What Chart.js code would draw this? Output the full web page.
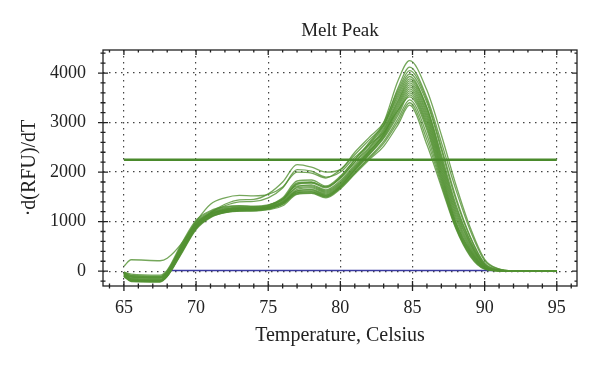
<!DOCTYPE html>
<html>
<head>
<meta charset="utf-8">
<script src="https://cdn.jsdelivr.net/npm/chart.js@4.4.1/dist/chart.umd.min.js"></script>
<style>
  html, body { margin: 0; padding: 0; background: #fff; }
  #wrap { width: 600px; height: 368px; }
</style>
</head>
<body>
<div id="wrap"><canvas id="melt" width="600" height="368"></canvas></div>
<script>
const temps = [65, 65.5, 67.5, 68, 69, 70, 71, 72, 73, 74, 75, 76, 77, 78, 79, 80, 81, 82, 83, 84, 84.8, 86, 87, 88, 89, 90, 91, 92, 95];

// -d(RFU)/dT per well
const c1  = [-60, -120, -140, -40, 480, 950, 1150, 1230, 1260, 1260, 1300, 1450, 1780, 1800, 1700, 1900, 2250, 2600, 3000, 3850, 4250, 3650, 2750, 1750, 880, 240, 45, 5, 0];
const c2  = [-20, -80, -100, 0, 520, 980, 1180, 1260, 1290, 1290, 1330, 1480, 1820, 1840, 1720, 1920, 2250, 2580, 2950, 3700, 4120, 3500, 2600, 1650, 820, 210, 40, 5, 0];
const c3  = [-50, -150, -170, -60, 430, 900, 1180, 1350, 1440, 1450, 1560, 1800, 2150, 2100, 2000, 2050, 2400, 2700, 3000, 3650, 4050, 3450, 2500, 1500, 700, 160, 30, 5, 0];
const c4  = [-80, -180, -200, -80, 400, 880, 1120, 1220, 1250, 1250, 1290, 1420, 1750, 1780, 1680, 1880, 2200, 2550, 2920, 3600, 3980, 3400, 2450, 1450, 680, 150, 25, 3, 0];
const c5  = [100, 230, 210, 260, 560, 1000, 1350, 1480, 1530, 1520, 1550, 1700, 2000, 1980, 1880, 2050, 2350, 2650, 2950, 3550, 3930, 3300, 2350, 1350, 620, 130, 20, 3, 0];
const c6  = [-40, -100, -120, -20, 500, 960, 1170, 1250, 1280, 1280, 1310, 1450, 1760, 1790, 1700, 1880, 2200, 2500, 2880, 3500, 3880, 3300, 2300, 1300, 600, 120, 20, 3, 0];
const c7  = [-100, -200, -210, -100, 380, 860, 1100, 1200, 1230, 1240, 1270, 1400, 1700, 1740, 1640, 1830, 2150, 2480, 2850, 3450, 3840, 3250, 2250, 1250, 560, 110, 18, 2, 0];
const c8  = [-30, -90, -110, -10, 520, 1000, 1200, 1280, 1310, 1300, 1330, 1460, 1720, 1720, 1620, 1800, 2120, 2450, 2820, 3420, 3800, 3200, 2200, 1200, 540, 100, 15, 2, 0];
const c9  = [-70, -160, -180, -70, 420, 900, 1130, 1210, 1240, 1240, 1270, 1380, 1650, 1680, 1580, 1760, 2080, 2420, 2780, 3380, 3760, 3150, 2150, 1150, 500, 90, 15, 2, 0];
const c10 = [-90, -190, -200, -90, 400, 870, 1110, 1200, 1230, 1230, 1260, 1360, 1620, 1650, 1560, 1740, 2060, 2400, 2760, 3340, 3720, 3100, 2100, 1100, 470, 80, 12, 2, 0];
const c11 = [-20, -60, -80, 20, 560, 1030, 1220, 1300, 1320, 1310, 1340, 1440, 1680, 1700, 1600, 1780, 2100, 2420, 2750, 3300, 3680, 3050, 2050, 1050, 440, 75, 12, 2, 0];
const c12 = [-60, -140, -160, -60, 450, 920, 1140, 1220, 1250, 1250, 1280, 1380, 1600, 1620, 1530, 1720, 2050, 2380, 2720, 3250, 3640, 3000, 2000, 1000, 420, 70, 10, 2, 0];
const c13 = [-110, -210, -220, -110, 360, 840, 1080, 1180, 1210, 1220, 1250, 1350, 1580, 1600, 1500, 1700, 2020, 2350, 2700, 3200, 3600, 2950, 1950, 980, 400, 65, 10, 1, 0];
const c14 = [-40, -110, -130, -30, 490, 950, 1160, 1240, 1270, 1270, 1300, 1400, 1620, 1640, 1540, 1720, 2040, 2360, 2680, 3150, 3560, 2900, 1900, 950, 380, 60, 8, 1, 0];
const c15 = [-70, -170, -190, -80, 420, 900, 1170, 1320, 1400, 1410, 1480, 1680, 2050, 2020, 1900, 2000, 2300, 2550, 2800, 3250, 3520, 2850, 1850, 920, 360, 55, 8, 1, 0];
const c16 = [-90, -180, -190, -90, 400, 880, 1100, 1190, 1220, 1230, 1260, 1350, 1560, 1580, 1500, 1680, 1980, 2300, 2620, 3080, 3460, 2750, 1800, 900, 340, 50, 8, 1, 0];
const c17 = [-50, -120, -140, -40, 470, 930, 1150, 1230, 1260, 1260, 1290, 1380, 1580, 1600, 1520, 1690, 1990, 2280, 2580, 3020, 3400, 2650, 1750, 880, 320, 45, 6, 1, 0];
const c18 = [-100, -200, -210, -100, 380, 860, 1090, 1180, 1210, 1210, 1240, 1320, 1550, 1570, 1480, 1660, 1960, 2250, 2520, 2960, 3350, 2550, 1700, 860, 300, 40, 6, 1, 0];
const curves = [c1, c2, c3, c4, c5, c6, c7, c8, c9, c10, c11, c12, c13, c14, c15, c16, c17, c18];

// threshold bar and baseline
const thresholdTemps = [65, 95];
const thresholdLevel = [2250, 2250];
const baselineTemps = [68.2, 90.7];
const baselineLevel = [15, 15];

// axes
const xTicks = [65, 70, 75, 80, 85, 90, 95];
const yTicks = [0, 1000, 2000, 3000, 4000];
const xMinor = [64, 66, 67, 68, 69, 71, 72, 73, 74, 76, 77, 78, 79, 81, 82, 83, 84, 86, 87, 88, 89, 91, 92, 93, 94, 96];
const yMinor = [-200, 200, 400, 600, 800, 1200, 1400, 1600, 1800, 2200, 2400, 2600, 2800, 3200, 3400, 3600, 3800, 4200, 4400];

const SERIF = "'Liberation Serif', 'Times New Roman', serif";
const INK = "#222";
const X_MIN = 63.55;
const X_MAX = 96.4;

const toPoints = (xs, ys) => xs.map((x, i) => ({ x: x, y: ys[i] }));

// frame with tick marks on all four sides
const framePlugin = {
  id: "frame",
  afterDraw(chart) {
    const { ctx, chartArea: a, scales } = chart;
    const x = scales.x;
    const y = scales.y;
    ctx.save();
    ctx.strokeStyle = INK;
    ctx.lineWidth = 1.3;
    ctx.setLineDash([]);
    ctx.strokeRect(a.left, a.top, a.right - a.left, a.bottom - a.top);

    const xTick = (v, len) => {
      const px = x.getPixelForValue(v);
      ctx.beginPath();
      ctx.moveTo(px, a.bottom - len);
      ctx.lineTo(px, a.bottom + len);
      ctx.moveTo(px, a.top);
      ctx.lineTo(px, a.top + len);
      ctx.stroke();
    };
    const yTick = (v, len) => {
      const py = y.getPixelForValue(v);
      ctx.beginPath();
      ctx.moveTo(a.left - len, py);
      ctx.lineTo(a.left + len, py);
      ctx.moveTo(a.right - len, py);
      ctx.lineTo(a.right, py);
      ctx.stroke();
    };
    xTicks.forEach((v) => xTick(v, 5));
    xMinor.forEach((v) => xTick(v, 2.5));
    yTicks.forEach((v) => yTick(v, 5));
    yMinor.forEach((v) => yTick(v, 2.5));
    ctx.restore();
  },
};

const greenSets = curves.map((vals, i) => ({
  label: "well " + (i + 1),
  data: toPoints(temps, vals),
  borderColor: "rgba(82, 145, 50, 0.8)",
  borderWidth: 1.3,
  pointRadius: 0,
  fill: false,
  cubicInterpolationMode: "monotone",
  order: 2,
}));

new Chart(document.getElementById("melt"), {
  type: "line",
  data: {
    datasets: [
      {
        label: "threshold",
        data: toPoints(thresholdTemps, thresholdLevel),
        borderColor: "#4a8a2c",
        borderWidth: 2.6,
        pointRadius: 0,
        order: 1,
      },
      {
        label: "baseline",
        data: toPoints(baselineTemps, baselineLevel),
        borderColor: "#3a3aa0",
        borderWidth: 1.5,
        pointRadius: 0,
        order: 3,
      },
      ...greenSets,
    ],
  },
  options: {
    responsive: false,
    animation: false,
    layout: { padding: { left: 0, right: 23, top: 0, bottom: 0 } },
    plugins: {
      legend: { display: false },
      tooltip: { enabled: false },
      title: { display: false },
    },
    scales: {
      // top axis only carries the chart title, centred over the plot
      top: {
        type: "linear",
        axis: "x",
        position: "top",
        min: X_MIN,
        max: X_MAX,
        afterBuildTicks: (s) => { s.ticks = []; },
        afterFit: (s) => { s.height = 50; },
        ticks: { display: false },
        grid: { display: false, drawTicks: false },
        border: { display: false },
        title: {
          display: true,
          text: "Melt Peak",
          color: INK,
          font: { family: SERIF, size: 19 },
          padding: { top: 20, bottom: 0 },
        },
      },
      x: {
        type: "linear",
        position: "bottom",
        min: X_MIN,
        max: X_MAX,
        afterBuildTicks: (s) => { s.ticks = xTicks.map((v) => ({ value: v })); },
        afterFit: (s) => { s.height = 82; },
        ticks: {
          color: INK,
          font: { family: SERIF, size: 18 },
          padding: 11,
          maxRotation: 0,
          autoSkip: false,
        },
        grid: { color: "#444", lineWidth: 1.2, drawTicks: false },
        border: { display: false, dash: [1.5, 4.5] },
        title: {
          display: true,
          text: "Temperature, Celsius",
          color: INK,
          font: { family: SERIF, size: 20 },
          padding: { top: 0, bottom: 20 },
        },
      },
      y: {
        min: -300,
        max: 4465,
        afterBuildTicks: (s) => { s.ticks = yTicks.map((v) => ({ value: v })); },
        afterFit: (s) => { s.width = 103; },
        ticks: {
          color: INK,
          font: { family: SERIF, size: 18 },
          padding: 17,
          autoSkip: false,
          callback: (v) => String(v),
        },
        grid: { color: "#444", lineWidth: 1.2, drawTicks: false },
        border: { display: false, dash: [1.5, 4.5] },
        title: {
          display: true,
          text: "·d(RFU)/dT",
          color: INK,
          font: { family: SERIF, size: 20 },
          padding: { top: 18, bottom: 0 },
        },
      },
    },
  },
  plugins: [framePlugin],
});
</script>
</body>
</html>
